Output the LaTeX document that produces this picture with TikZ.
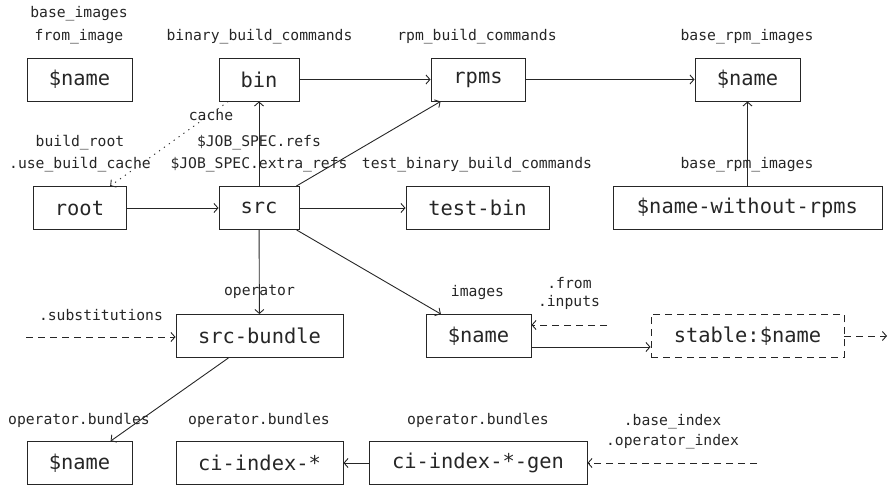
\documentclass[tikz,border=0pt]{standalone}
\usepackage{fontspec}
\setmonofont{DejaVu Sans Mono}
\usetikzlibrary{arrows.meta}
\begin{document}
\begin{tikzpicture}[x=1pt,y=-1pt,
  line width=0.9pt,
  box/.style={draw=black!85, line width=0.9pt, minimum height=43pt, inner sep=0pt,
    font=\ttfamily\fontsize{20.4}{22}\selectfont, text=black!85},
  lab/.style={inner sep=0pt, font=\ttfamily\fontsize{14.7}{16}\selectfont, text=black!85},
  arr/.style={draw=black!85, -{Straight Barb[length=4pt,width=9pt]}},
  dsh/.style={dash pattern=on 7pt off 5pt},
  dot/.style={dash pattern=on 1.2pt off 4.8pt}]
\useasboundingbox (0,0) rectangle (895,494);
% boxes
\node[box, minimum width=105pt] (n1) at (79.5,79.5) {\$name};
\node[box, minimum width=80pt] (bin) at (259,79.5) {bin};
\node[box, minimum width=94pt] (rpms) at (478,79.5) {rpms};
\node[box, minimum width=105pt] (rpmname) at (747.5,79.5) {\$name};
\node[box, minimum width=93pt] (root) at (79.5,208) {root};
\node[box, minimum width=80pt] (src) at (259,208) {src};
\node[box, minimum width=143pt] (testbin) at (477.5,208) {test-bin};
\node[box, minimum width=269pt] (without) at (747.5,208) {\$name-without-rpms};
\node[box, minimum width=167pt] (srcbundle) at (259.5,336) {src-bundle};
\node[box, minimum width=105pt] (images) at (478.5,336) {\$name};
\node[box, minimum width=193pt, dsh] (stable) at (747.5,336) {stable:\$name};
\node[box, minimum width=105pt] (opname) at (79.5,463) {\$name};
\node[box, minimum width=167pt] (ciindex) at (259.5,463) {ci-index-*};
\node[box, minimum width=218pt] (cigen) at (478,463) {ci-index-*-gen};
% labels
\node[lab] (l1) at (79,14) {base\_images};
\node[lab] (l2) at (79,37) {from\_image};
\node[lab] (l3) at (259.5,37) {binary\_build\_commands};
\node[lab] (l4) at (477,37) {rpm\_build\_commands};
\node[lab] (l5) at (747,37) {base\_rpm\_images};
\node[lab] (l6) at (211,115) {cache};
\node[lab] (l7) at (80,143) {build\_root};
\node[lab] (l8) at (80,165) {.use\_build\_cache};
\node[lab] (l9) at (259,143) {\$JOB\_SPEC.refs};
\node[lab] (l10) at (259,165) {\$JOB\_SPEC.extra\_refs};
\node[lab] (l11) at (477,165) {test\_binary\_build\_commands};
\node[lab] (l12) at (747,165) {base\_rpm\_images};
\node[lab] (l13) at (259.5,292) {operator};
\node[lab] (l14) at (477.5,292) {images};
\node[lab] (l15) at (569.5,283) {.from};
\node[lab] (l16) at (569,302) {.inputs};
\node[lab] (l17) at (101,315) {.substitutions};
\node[lab] (l18) at (79,420) {operator.bundles};
\node[lab] (l19) at (259,420) {operator.bundles};
\node[lab] (l20) at (478,420) {operator.bundles};
\node[lab] (l21) at (672.5,422) {.base\_index};
\node[lab] (l22) at (672.5,442) {.operator\_index};
% free ends
\coordinate (subst) at (26,337);
\coordinate (genin) at (757,463);
\coordinate (fromin) at (607,325);
\coordinate (stableout) at (887,336);
% connectors
\draw[arr] (bin) -- (rpms);
\draw[arr] (rpms) -- (rpmname);
\draw[arr] (without) -- (rpmname);
\draw[arr] (root) -- (src);
\draw[arr] (src) -- (testbin);
\draw[arr] (src) -- (bin);
\draw[arr] (src) -- (rpms);
\draw[arr] (src) -- (srcbundle);
\draw[arr] (src) -- (images);
\draw[arr, dot] (bin) -- (root);
\draw[arr, dsh] (subst) -- (srcbundle.west |- subst);
\draw[arr] (srcbundle) -- (opname);
\draw[arr] (cigen) -- (ciindex);
\draw[arr, dsh] (genin) -- (cigen.east |- genin);
\draw[arr, dsh] (fromin) -- (images.east |- fromin);
\draw[arr] (images.east |- 0,347) -- (stable.west |- 0,347);
\draw[arr, dsh] (stable.east) -- (stableout);
\end{tikzpicture}
\end{document}
